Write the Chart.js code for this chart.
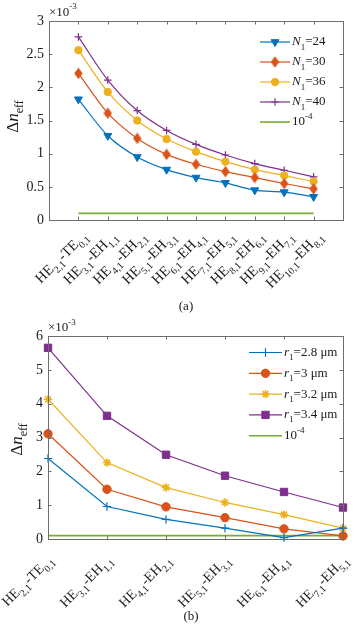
<!DOCTYPE html>
<html><head><meta charset="utf-8">
<script src="https://cdn.jsdelivr.net/npm/chart.js@4/dist/chart.umd.min.js"></script>
<style>
html,body{margin:0;padding:0;background:#fff;}
#wa{position:absolute;left:0;top:0;width:357px;height:315px;}
#wb{position:absolute;left:0;top:315px;width:357px;height:313px;}
canvas{display:block;}
</style></head><body>
<div id="wa"><canvas id="ca" width="357" height="315"></canvas></div>
<div id="wb"><canvas id="cb" width="357" height="313"></canvas></div>
<script>
// ---------- DATA (values in units of 10^-3) ----------
const catsA = ['HE_{2,1}-TE_{0,1}','HE_{3,1}-EH_{1,1}','HE_{4,1}-EH_{2,1}','HE_{5,1}-EH_{3,1}','HE_{6,1}-EH_{4,1}','HE_{7,1}-EH_{5,1}','HE_{8,1}-EH_{6,1}','HE_{9,1}-EH_{7,1}','HE_{10,1}-EH_{8,1}'];
const n24 = [1.82,1.27,0.95,0.76,0.64,0.56,0.45,0.42,0.35];
const n30 = [2.21,1.61,1.23,0.99,0.84,0.73,0.64,0.55,0.47];
const n36 = [2.56,1.93,1.50,1.22,1.03,0.88,0.76,0.67,0.58];
const n40 = [2.76,2.11,1.65,1.35,1.14,0.98,0.85,0.75,0.65];
const limitA = [0.1,0.1,0.1,0.1,0.1,0.1,0.1,0.1,0.1];
const yTicksA = [0,0.5,1,1.5,2,2.5,3];
const legendA = ['*N*_{1}=24','*N*_{1}=30','*N*_{1}=36','*N*_{1}=40','10^{-4}'];

const catsB = ['HE_{2,1}-TE_{0,1}','HE_{3,1}-EH_{1,1}','HE_{4,1}-EH_{2,1}','HE_{5,1}-EH_{3,1}','HE_{6,1}-EH_{4,1}','HE_{7,1}-EH_{5,1}'];
const r28 = [2.38,0.96,0.58,0.32,0.04,0.32];
const r30 = [3.11,1.47,0.95,0.63,0.30,0.09];
const r32 = [4.13,2.26,1.52,1.08,0.72,0.32];
const r34 = [5.65,3.64,2.49,1.87,1.39,0.93];
const limitB = [0.1,0.1,0.1,0.1,0.1,0.1];
const yTicksB = [0,1,2,3,4,5,6];
const legendB = ['*r*_{1}=2.8 μm','*r*_{1}=3 μm','*r*_{1}=3.2 μm','*r*_{1}=3.4 μm','10^{-4}'];

const multiplierText = '×10^{-3}';
const yTitleText = 'Δ*n*_{eff}';
const captionA = '(a)';
const captionB = '(b)';

// ---------- STYLE ----------
const C = {blue:'#0072BD', red:'#D95319', yellow:'#EDB120', purple:'#7E2F8E', green:'#77AC30'};
const FAM = '"Liberation Serif","Times New Roman",serif';
const TXT = '#1a1a1a';
const AXC = '#6e6e6e';

function parseRich(s){
  const out=[]; let i=0, italic=false, buf='';
  const push=(t,mode)=>{ if(t) out.push({t, mode, it: italic}); };
  while(i<s.length){
    const c=s[i];
    if(c==='*'){ push(buf,'n'); buf=''; italic=!italic; i++; }
    else if((c==='_'||c==='^') && s[i+1]==='{'){
      push(buf,'n'); buf='';
      const j=s.indexOf('}',i);
      out.push({t:s.slice(i+2,j), mode:c==='_'?'sub':'sup', it:false});
      i=j+1;
    } else { buf+=c; i++; }
  }
  push(buf,'n');
  return out;
}
function fontFor(g,size){ const s = g.mode==='n'?size:Math.round(size*0.72); return (g.it?'italic ':'')+s+'px '+FAM; }
function drawRich(ctx, text, x, y, size, opts){
  opts = opts||{};
  const segs=parseRich(text);
  ctx.save();
  ctx.translate(x,y);
  if(opts.rot) ctx.rotate(opts.rot);
  let W=0;
  for(const g of segs){ ctx.font=fontFor(g,size); W+=ctx.measureText(g.t).width; }
  let cx = opts.align==='right'?-W:(opts.align==='center'?-W/2:0);
  ctx.fillStyle=opts.color||TXT;
  ctx.textBaseline='middle'; ctx.textAlign='left';
  const subOff = opts.subOff!==undefined?opts.subOff:0.36;
  for(const g of segs){
    ctx.font=fontFor(g,size);
    const dy = g.mode==='sub'? size*subOff : (g.mode==='sup'? -size*0.42 : 0);
    ctx.fillText(g.t,cx,dy);
    cx+=ctx.measureText(g.t).width;
  }
  ctx.restore();
}

function diamondImg(color){
  const c=document.createElement('canvas'); c.width=9; c.height=12;
  const g=c.getContext('2d'); g.fillStyle=color;
  g.beginPath(); g.moveTo(4.5,0.3); g.lineTo(8.7,6); g.lineTo(4.5,11.7); g.lineTo(0.3,6); g.closePath(); g.fill();
  return c;
}

function ds(label, vals, color, style, radius, extra){
  return Object.assign({
    label, data: vals.map((v,i)=>({x:i, y:v})), borderColor:color, backgroundColor:color,
    pointBackgroundColor:color, pointBorderColor:color, pointStyle:style, pointRadius:radius,
    pointBorderWidth:1, borderWidth:1.2, clip:false, tension:0
  }, extra||{});
}

function decorPlugin(cfg){
  return {
    id:'decor',
    afterDatasetsDraw(chart){
      const ctx=chart.ctx, a=chart.chartArea, xs=chart.scales.x, ys=chart.scales.y;
      ctx.save();
      // box
      ctx.strokeStyle=AXC; ctx.lineWidth=1;
      ctx.strokeRect(Math.round(a.left)+0.5, Math.round(a.top)+0.5, Math.round(a.right-a.left), Math.round(a.bottom-a.top));
      // inward ticks
      const TL=3.5;
      ctx.beginPath();
      xs.ticks.forEach(t=>{ const px=Math.round(xs.getPixelForValue(t.value))+0.5;
        ctx.moveTo(px,a.bottom); ctx.lineTo(px,a.bottom-TL);
        ctx.moveTo(px,a.top); ctx.lineTo(px,a.top+TL); });
      ys.ticks.forEach(t=>{ const py=Math.round(ys.getPixelForValue(t.value))+0.5;
        ctx.moveTo(a.left,py); ctx.lineTo(a.left+TL,py);
        ctx.moveTo(a.right,py); ctx.lineTo(a.right-TL,py); });
      ctx.stroke();
      // x labels (rotated, rich)
      xs.ticks.forEach((t,i)=>{
        const px=xs.getPixelForValue(t.value);
        drawRich(ctx, cfg.cats[i], px+cfg.lblDx, a.bottom+cfg.lblDy, cfg.lblSize, {align:'right', rot:-Math.PI/4, subOff:0.4});
      });
      // y title
      drawRich(ctx, yTitleText, cfg.titleX, (a.top+a.bottom)/2+cfg.titleDy, 17, {align:'center', rot:-Math.PI/2, subOff:0.35});
      // multiplier
      drawRich(ctx, multiplierText, a.left, cfg.multY, 13, {align:'left'});
      // legend
      const L=cfg.legend;
      chart.data.datasets.forEach((d,i)=>{
        const y=L.y0+i*L.step;
        ctx.strokeStyle=d.borderColor; ctx.lineWidth=d.borderWidth;
        ctx.beginPath(); ctx.moveTo(L.x0,y); ctx.lineTo(L.x1,y); ctx.stroke();
        if(d.pointRadius>0 && Chart.helpers && Chart.helpers.drawPoint){
          ctx.fillStyle=d.pointBackgroundColor; ctx.strokeStyle=d.pointBorderColor; ctx.lineWidth=d.pointBorderWidth;
          Chart.helpers.drawPoint(ctx,{pointStyle:d.pointStyle, rotation:d.pointRotation||0, radius:d.pointRadius, borderWidth:d.pointBorderWidth},(L.x0+L.x1)/2,y);
        }
        drawRich(ctx, cfg.legendLabels[i], L.xt, y, L.size, {align:'left', subOff:0.4});
      });
      // caption
      ctx.fillStyle=TXT; ctx.font='13px '+FAM; ctx.textAlign='center'; ctx.textBaseline='middle';
      ctx.fillText(cfg.caption, cfg.capX, cfg.capY);
      ctx.restore();
    }
  };
}

function baseOptions(xmin,xmax,xticks,yticks,ymax,ywidth,xheight){
  return {
    responsive:false, animation:false, devicePixelRatio:1,
    layout:{padding:{left:0,right:14,top:21,bottom:0}},
    plugins:{legend:{display:false}, tooltip:{enabled:false}},
    scales:{
      x:{type:'linear', min:xmin, max:xmax,
         afterBuildTicks:s=>{ s.ticks = xticks.map(v=>({value:v})); },
         ticks:{display:false}, grid:{display:false}, border:{display:false},
         afterFit:s=>{ s.height=xheight; }},
      y:{type:'linear', min:0, max:ymax,
         afterBuildTicks:s=>{ s.ticks = yticks.map(v=>({value:v})); },
         ticks:{color:TXT, padding:5, font:{family:FAM, size:14}, callback:v=>String(v)},
         grid:{display:false, drawTicks:false}, border:{display:false},
         afterFit:s=>{ s.width=ywidth; }}
    }
  };
}

// ---------- CHART A ----------
const smooth = {cubicInterpolationMode:'monotone'};
const dsA = [
  ds('N1=24', n24, C.blue, 'triangle', 4.6, Object.assign({pointRotation:180}, smooth)),
  ds('N1=30', n30, C.red, diamondImg(C.red), 5, smooth),
  ds('N1=36', n36, C.yellow, 'circle', 3.7, smooth),
  ds('N1=40', n40, C.purple, 'cross', 3.8, Object.assign({pointBorderWidth:1.2}, smooth)),
  ds('1e-4', limitA, C.green, 'circle', 0, {borderWidth:1.6})
];
dsA.forEach(d=>d.data.forEach(p=>p.x+=1));
new Chart(document.getElementById('ca'), {
  type:'line',
  data:{datasets:dsA},
  options: baseOptions(0,10,catsA.map((c,i)=>i+1),yTicksA,3,49,95),
  plugins:[decorPlugin({cats:catsA, lblDx:7, lblDy:14, lblSize:14.5, titleX:14, titleDy:-4, multY:12.5,
    legend:{x0:260, x1:290, xt:292, y0:42, step:20, size:13}, legendLabels:legendA, caption:captionA, capX:186, capY:307})]
});

// ---------- CHART B ----------
const dsB = [
  ds('r1=2.8', r28, C.blue, 'cross', 4.2, {pointBorderWidth:1.2}),
  ds('r1=3', r30, C.red, 'circle', 4.2),
  ds('r1=3.2', r32, C.yellow, 'star', 4.2, {pointBorderWidth:1.6}),
  ds('r1=3.4', r34, C.purple, 'rect', 5.2),
  ds('1e-4', limitB, C.green, 'circle', 0, {borderWidth:1.6})
];
new Chart(document.getElementById('cb'), {
  type:'line',
  data:{datasets:dsB},
  options: baseOptions(0,5,catsB.map((c,i)=>i),yTicksB,6,48,89),
  plugins:[decorPlugin({cats:catsB, lblDx:3, lblDy:19, lblSize:14, titleX:18, titleDy:2, multY:13,
    legend:{x0:249, x1:282, xt:284, y0:37.5, step:20.8, size:13}, legendLabels:legendB, caption:captionB, capX:191, capY:302})]
});
</script>
</body></html>
